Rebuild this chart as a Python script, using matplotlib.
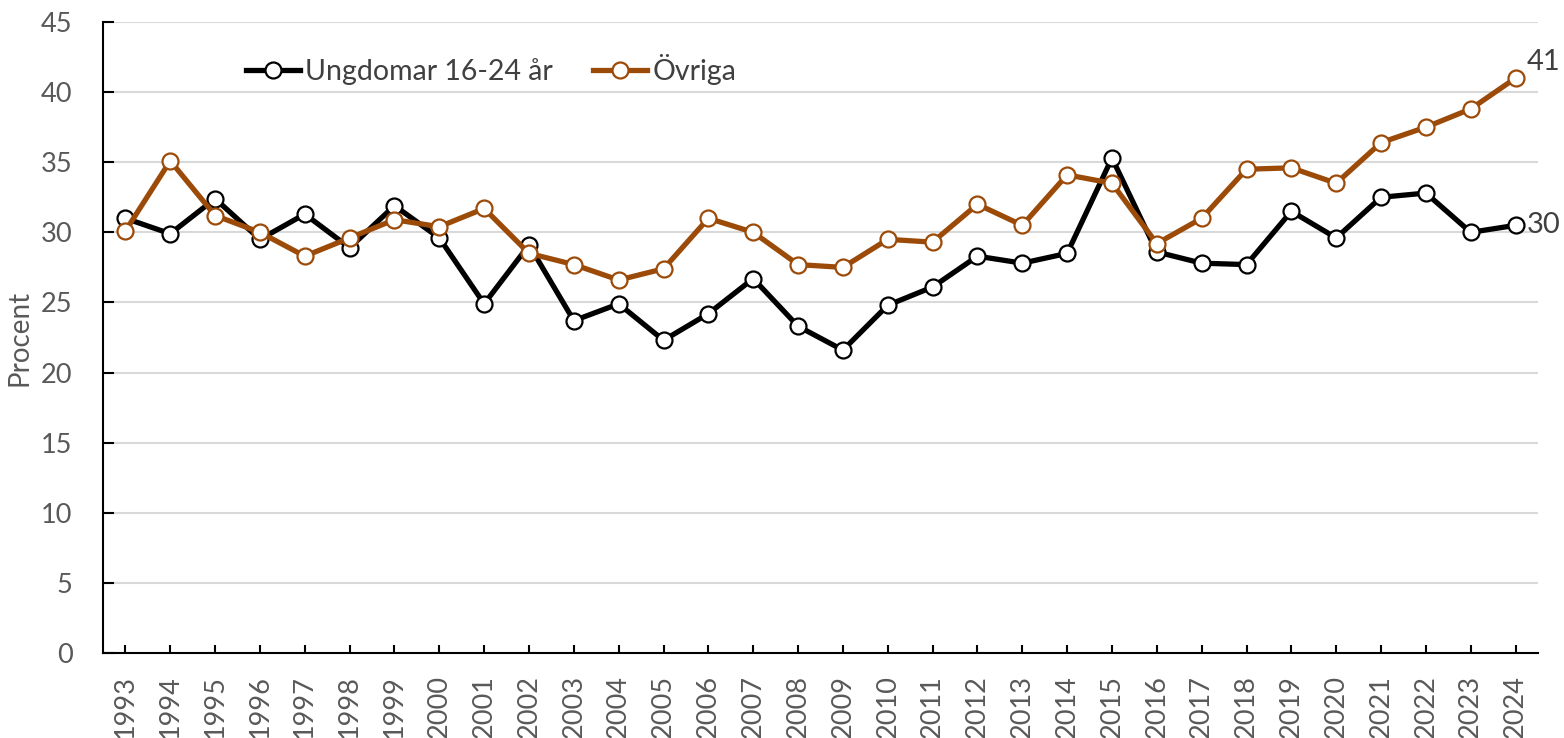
import matplotlib
matplotlib.use("Agg")
import matplotlib.pyplot as plt

plt.rcParams['font.family'] = ['Lato', 'DejaVu Sans']

years = list(range(1993, 2025))
ungdomar = [31.0, 29.9, 32.4, 29.5, 31.3, 28.9, 31.9, 29.6, 24.9, 29.1,
            23.7, 24.9, 22.3, 24.2, 26.7, 23.3, 21.6, 24.8, 26.1, 28.3,
            27.8, 28.5, 35.3, 28.6, 27.8, 27.7, 31.5, 29.6, 32.5, 32.8,
            30.0, 30.5]
ovriga = [30.1, 35.1, 31.2, 30.0, 28.3, 29.6, 30.9, 30.4, 31.7, 28.5,
          27.7, 26.6, 27.4, 31.0, 30.0, 27.7, 27.5, 29.5, 29.3, 32.0,
          30.5, 34.1, 33.5, 29.2, 31.0, 34.5, 34.6, 33.5, 36.4, 37.5,
          38.8, 41.0]
series_names = ["Ungdomar 16-24 år", "Övriga"]
yticks = list(range(0, 50, 5))

BLACK = "#000000"
ORANGE = "#9C4A08"
GRAY = "#595959"

fig = plt.figure(figsize=(15.64, 7.38), dpi=100)
ax = fig.add_axes([103/1564, 1-653/738, (1538-103)/1564, (653-22)/738])

for vals, col, name in [(ungdomar, BLACK, series_names[0]), (ovriga, ORANGE, series_names[1])]:
    ax.plot(years, vals, color=col, lw=3.8, marker='o', ms=11.5,
            mfc='white', mec=col, mew=1.6, label=name, zorder=3,
            solid_joinstyle='round')

ax.set_xlim(1992.5, 2024.5)
ax.set_ylim(0, 45)
ax.set_yticks(yticks)
ax.set_xticks(years)
ax.set_xticklabels([str(y) for y in years], rotation=90)
ax.grid(axis='y', color='#d9d9d9', lw=1.5, zorder=0)
ax.set_axisbelow(True)
for s in ['top', 'right']:
    ax.spines[s].set_visible(False)
for s in ['left', 'bottom']:
    ax.spines[s].set_linewidth(1.5)
    ax.spines[s].set_color('black')
ax.tick_params(axis='y', direction='in', length=8, width=1.5, pad=22,
               labelsize=19.5, labelcolor=GRAY)
ax.tick_params(axis='x', direction='in', length=6, width=1.5, pad=16,
               labelsize=19.5, labelcolor=GRAY)
ax.set_ylabel("Procent", fontsize=20, color=GRAY, labelpad=6)

ax.annotate(f"{ovriga[-1]:.0f}", (years[-1], ovriga[-1]), xytext=(8, 2),
            textcoords='offset points', fontsize=21, color='#404040',
            va='bottom', ha='left', annotation_clip=False)
ax.annotate(f"{ungdomar[-1]:.0f}", (years[-1], ungdomar[-1]), xytext=(8, 0),
            textcoords='offset points', fontsize=21, color='#404040',
            va='center', ha='left', annotation_clip=False)

leg = ax.legend(loc='upper left', bbox_to_anchor=(0.0815, 0.99), ncol=2,
                frameon=False, fontsize=20.5, handlelength=1.9,
                handletextpad=0.2, columnspacing=1.4, labelcolor='#404040')

fig.savefig("out.png", dpi=100)
